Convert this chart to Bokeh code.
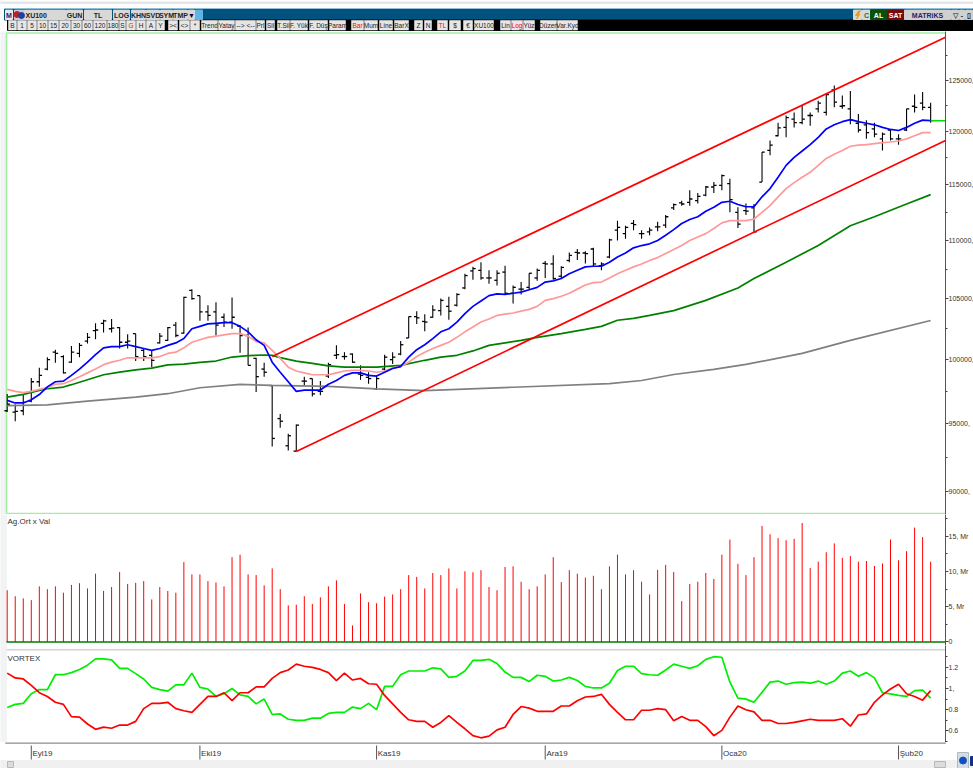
from bokeh.plotting import figure
from bokeh.layouts import column
from bokeh.models import Range1d, FixedTicker, Label, LinearAxis, LogAxis
from bokeh.core.properties import value
from bokeh.embed import file_html
from bokeh.resources import INLINE

# ---------------- data ----------------
open_ = [96000,95900,96000,96750,98250,99250,100600,100250,99800,100500,
 101500,102350,102950,102500,102600,101400,102100,100750,100350,101350,
 101550,102800,102150,105700,105250,103900,103900,103450,103050,102700,
 101950,100100,99250,97950,95400,93350,92950,98300,98500,97500,
 98700,100350,100250,100450,98850,98600,97700,99250,100000,100450,
 101750,103500,103100,103450,104000,104350,104450,105900,107350,107400,
 106750,106550,107250,105450,105800,105950,106750,108000,107950,106900,
 108250,108950,108900,109250,107800,108550,110900,110600,111500,110600,
 110750,111200,111350,112900,113350,113400,113550,114050,114800,114950,
 115100,112500,112650,112900,115250,118200,119600,120400,121200,120850,
 121550,122200,121850,124050,122450,122200,120800,120650,120250,119300,
 120150,119300,120150,122450,122750,122350]
high = [97300,96500,97250,98550,99350,100200,100800,100350,101100,101350,
 102150,102950,103250,103300,102650,102050,102100,100900,100750,102150,
 102650,103050,105150,105800,105250,104450,104700,103750,105100,102800,
 102600,100150,99750,97950,95750,94250,94950,98650,98500,98300,
 99750,101150,100600,100500,99550,99000,98750,100400,100600,101500,
 103500,103950,103700,104450,105000,105150,105450,107100,107700,108100,
 107400,107400,107800,106100,106400,107150,107550,108200,108700,107750,
 108950,109250,109050,109350,108100,110150,111750,111300,111800,110900,
 111150,111650,112250,113300,113550,114500,114250,114900,115250,115950,
 115550,112950,113300,113250,118050,119150,120850,121550,121850,122500,
 121850,123000,123650,124500,123500,123950,121700,121100,120850,119900,
 120250,119750,122200,123600,123850,122800]
low = [95900,95200,95650,96650,97850,99150,99750,98900,99750,100200,
 101300,101650,102200,102200,100900,100900,99900,99900,99400,101300,
 101500,101800,102100,104900,103150,103150,101950,102650,102500,100550,
 99550,97450,98650,93300,94700,93000,92950,97950,97100,97200,
 98550,100050,100000,99750,98400,98100,97600,99150,99650,100350,
 101750,102900,102300,103400,103600,103250,104350,105800,106600,106600,
 106250,106100,105350,104600,105350,105800,106500,106750,106600,106750,
 108100,108300,108000,107700,107400,108450,110000,110150,110900,110150,
 110450,110800,111100,112700,113100,113100,113300,113950,114250,114500,
 112500,111100,112250,110650,115250,117750,119550,119450,120400,120700,
 120550,121850,121550,122350,122200,120700,119900,119300,119450,118200,
 119150,118750,120050,121850,122050,120850]
close = [96500,95950,96650,98250,98750,100000,100500,98950,100600,101150,
 101800,102400,103150,102550,101400,101500,100250,100250,99950,101900,
 102600,101950,105100,105000,103900,103600,102800,103050,103450,101950,
 99550,98650,99000,93900,95200,94100,94900,98300,97300,97500,
 99600,100400,100250,99800,98750,98500,98500,100200,100200,101200,
 103500,103400,103050,104050,104850,103950,105350,106950,107550,106750,
 106750,107150,105450,105950,105800,107150,107400,107950,106700,107650,
 108700,108900,108850,107950,107950,110050,111150,111150,111400,110600,
 110900,111200,112100,113200,113250,113700,113950,114800,114950,115850,
 113650,111450,112600,110750,118050,118700,120350,121350,120850,121200,
 121550,122750,123600,122850,122500,121100,120150,119900,119750,119750,
 119300,119300,122200,122350,122350,121050]
ma_blue = [96800,96600,96600,96850,97250,97850,98250,98300,98750,99250,
 99800,100400,100950,101050,101050,101200,101050,100900,100750,100900,
 101150,101350,101700,102500,102700,102900,102950,103000,103000,102700,
 102250,101600,101150,99800,99000,98250,97500,97600,97600,97600,98050,
 98350,98750,98950,98950,98750,98700,99000,99300,99450,100200,
 100800,101200,101700,102250,102500,103050,103750,104350,104800,105250,
 105400,105350,105450,105550,105750,105950,106400,106500,106700,107100,
 107400,107700,107750,107750,108100,108550,108900,109350,109550,109700,
 110000,110450,110950,111500,111850,112100,112600,112950,113400,113500,
 113200,113000,113000,113900,114650,115700,116800,117550,118150,118750,
 119450,120250,120650,120950,121150,120950,120800,120650,120400,120200,
 120100,120400,120800,121100,121050]
ma_pink = [97650,97500,97400,97500,97650,97800,98050,98100,98350,98650,
 98950,99250,99600,99800,99950,100150,100150,100150,100150,100250,
 100500,100600,100950,101400,101600,101800,101900,102000,102100,102100,
 101900,101450,101350,100750,100100,99400,99100,98950,98800,98800,98800,
 98950,99100,99150,99150,99100,99000,99100,99350,99450,99800,
 100250,100600,100900,101150,101400,101800,102250,102650,103050,103300,
 103600,103700,103800,103950,104100,104350,104850,105000,105200,105450,
 105800,106150,106350,106400,106750,107100,107400,107700,107950,108250,
 108500,108850,109200,109550,110000,110300,110600,111050,111550,111750,
 111750,111750,111900,112500,113100,113900,114650,115200,115700,116150,
 116800,117450,117850,118200,118600,118700,118750,118850,118950,119000,
 119100,119300,119600,119900,119900]
ma_green_x = [0,2,4,5,7,8,10,12,14,16,18,20,22,24,26,28,30,32,33,34,36,38,40,42,46,49,52,54,56,58,60,62,64,66,69,72,74,76,78,80,83,87,91,93,97,101,105,108,112,115]
ma_green = [97050,97260,97575,97700,97835,98020,98410,98800,99010,99190,99320,99590,99650,99780,99890,100210,100320,100375,100345,100160,99890,99700,99500,99400,99400,99550,99950,100200,100350,100700,101150,101350,101550,101800,102100,102450,102700,103200,103350,103600,104000,104850,105900,106700,108100,109550,111300,112100,113250,114100]
ma_gray_x = [0,5,10,16,20,24,29,33,40,46,52,63,75,79,83,88,92,99,105,115]
ma_gray = [96400,96450,96740,97050,97315,97780,98045,97965,97885,97700,97560,97820,98110,98350,98820,99220,99620,100500,101550,103180]
trend_x = [33,116.85]
trend_upper = [100250,129400]
trend2_x = [36,116.85]
trend_lower = [92925,119150]
volume = [7.35,6.5,6.2,5.95,7.9,7.5,7.9,7.0,8.1,8.35,7.6,9.7,7.25,7.8,9.95,8.25,8.4,8.65,6.05,7.8,
 7.25,7.0,11.35,9.6,9.6,8.65,8.45,7.9,12.05,12.4,9.6,9.5,8.05,10.45,7.5,5.2,5.3,6.5,5.4,6.35,
 7.9,8.75,5.4,2.35,6.9,5.65,5.5,6.45,6.75,7.5,9.5,9.25,7.6,9.8,9.5,10.45,7.6,10.05,9.9,10.2,7.8,
 7.35,10.65,10.75,8.55,7.5,7.9,9.6,12.05,8.5,10.2,9.7,9.15,9.4,7.5,10.75,12.4,9.6,10.2,8.55,6.75,
 10.25,10.95,9.95,5.8,8.25,8.55,9.8,8.95,12.4,14.55,11.1,9.5,12.05,16.5,15.3,14.75,14.45,14.65,16.9,
 10.5,11.4,12.75,14.0,11.95,12.2,11.4,11.5,10.8,11.15,14.55,11.6,12.9,16.25,14.9,11.4]
vi_plus = [.82,.85,.86,.95,.99,.99,1.13,1.13,1.15,1.18,1.22,1.28,1.28,1.27,1.19,1.19,1.14,1.09,1.01,.99,
 .975,1.035,1.035,1.145,1.01,.995,.925,.95,1.0,.94,.925,.855,.90,.755,.76,.71,.70,.70,.72,.72,
 .765,.775,.775,.825,.81,.86,.80,1.02,1.02,1.13,1.165,1.165,1.165,1.195,1.185,1.105,1.115,1.165,1.265,1.265,1.275,
 1.235,1.155,1.105,1.105,1.065,1.125,1.115,1.07,1.08,1.105,1.075,1.02,1.005,1.005,1.05,1.17,1.21,1.21,1.14,1.13,
 1.125,1.175,1.23,1.21,1.19,1.215,1.275,1.30,1.295,1.06,.91,.90,.87,.965,1.06,1.07,1.04,1.055,1.06,1.05,
 1.07,1.04,1.07,1.145,1.165,1.115,1.15,1.10,.96,.95,.935,.925,.98,.985,.91]
vi_minus = [1.145,1.10,1.09,1.03,.96,.925,.87,.85,.735,.73,.665,.615,.635,.625,.655,.655,.69,.81,.86,.86,
 .87,.81,.79,.775,.85,.925,.925,.96,.885,.96,.96,1.015,1.015,1.095,1.15,1.175,1.23,1.21,1.20,1.18,
 1.15,1.075,1.145,1.08,1.095,1.045,1.04,.935,.855,.775,.705,.69,.69,.635,.68,.745,.68,.62,.555,.535,.55,
 .61,.635,.755,.83,.815,.785,.785,.785,.835,.835,.885,.92,.925,.945,.85,.775,.705,.705,.795,.795,
 .81,.80,.695,.735,.70,.70,.64,.555,.605,.73,.835,.80,.78,.70,.70,.67,.67,.68,.695,.71,
 .70,.70,.70,.715,.645,.75,.76,.87,.94,.995,1.04,.95,.925,.89,.98]
price_ticks = [90000,95000,100000,105000,110000,115000,120000,125000]
price_minor = [87500,92500,97500,102500,107500,112500,117500,122500,127500]
vol_ticks = [0,5,10,15]
vol_labels = ["0","5, Mr","10, Mr","15, Mr"]
vol_minor = [2.5,7.5,12.5,17.5]
vx_ticks = [0.6,0.8,1.0,1.2]
vx_labels = ["0.6","0.8","1,","1.2"]
vx_minor = [0.5,0.7,0.9,1.1,1.3]
date_idx = [3,24,46,67,89,111]
date_labels = ["Eyl19","Eki19","Kas19","Ara19","Oca20","Şub20"]

row1_left = [("M",5,12,"#e8e8e8","#1a237e"),("",14,24,"#c8c8d8","#000"),("XU100",24,65,"#d8d8d8","#222"),("GUN",66,82,"#d8d8d8","#222"),
 ("TL",84,111,"#d8d8d8","#222"),("LOG",113,129,"#d8d8d8","#222"),("KHN",131,145,"#d8d8d8","#222"),("SVD",146,159,"#d8d8d8","#222"),
 ("SYM",160,172,"#d8d8d8","#222"),("TMP",173,187,"#d8d8d8","#222"),("▼",188,194,"#d8d8d8","#000050"),("",195,202,"#5fb4e6","#fff")]
row1_right = [("",853,861,"#d8d8d8","#000"),("C",862,870,"#d8d8d8","#0a7a3a"),("AL",870,886,"#0a4f0a","#fff"),("SAT",887,903,"#7a0a0a","#fff"),
 ("MATRiKS",904,950,"#d0d0d0","#22226e"),("▽",951,958,"#d0d0d0","#555"),("-",959,964,"#d0d0d0","#222"),("▯",965,972,"#d0d0d0","#222")]
row2 = [("B",8,16),("1",17,26),("5",27,36),("10",37,47),("15",48,58),("20",59,70),("30",71,81),("60",82,92),("120",93,106),("180",107,118),
 ("S",119,125),("G",126,135),("H",136,145),("A",146,155),("Y",156,164),("><",168,177),("<>",179,189),("*",190,199),
 ("Trend",201,217),("Yatay",218,234),("-->",235,245),("<--",245,255),("Prl",256,264),("Sil",266,274),("T.Sil",277,289),("F. Yük",290,307),("F. Düş",309,327),("Param",329,345),
 ("Bar",351,363),("Mum",364,377),("Line",379,392),("BarX",394,408),("Z",414,422),("N",424,431),("TL",437,447),("$",449,460),("€",463,472),("XU100",474,493),
 ("Lin",500,510),("Log",511,522),("Yüz",523,534),("Düzen",540,556),("Var.Kyd",557,577)]
row2_red = ["G","Bar","TL","Log"]

# ---------------- scale constants ----------------
FONT = "Liberation Sans"
X0, STEP = 6.7, 8.03
XS, XE = (0 - X0) / STEP, (945 - X0) / STEP
LEFT_EDGE = (6 - X0) / STEP
n = len(close)
idx = list(range(n))
STRIP = "#f1f3f4"
BORDER = "#a0eea0"


def base(frame_h, yr, **kw):
    p = figure(frame_width=kw.pop("fw", 945), frame_height=frame_h, x_range=Range1d(XS, XE), y_range=yr,
               output_backend="svg", toolbar_location=None, min_border=0, min_border_left=0,
               min_border_right=0, min_border_top=0, min_border_bottom=0, **kw)
    p.outline_line_color = None
    p.grid.visible = False
    p.xaxis.visible = False
    p.yaxis.visible = False
    p.background_fill_color = "#ffffff"
    p.border_fill_color = "#ffffff"
    return p


def right_axis(p, ax, ticks, minor, labels):
    ax.ticker = FixedTicker(ticks=ticks, minor_ticks=minor)
    ax.major_label_overrides = labels
    ax.axis_line_color = "#555555"
    ax.major_tick_line_color = "#444444"
    ax.minor_tick_line_color = "#444444"
    ax.major_tick_in = 0
    ax.minor_tick_in = 0
    ax.major_tick_out = 3
    ax.minor_tick_out = 2
    ax.major_label_standoff = 0
    ax.major_label_text_font = FONT
    ax.major_label_text_font_size = "7px"
    ax.major_label_text_color = "#333333"
    p.add_layout(ax, "right")


# ---------------- chrome ----------------
chrome = figure(frame_width=973, frame_height=31, x_range=Range1d(0, 973), y_range=Range1d(31, 0),
                output_backend="svg", toolbar_location=None, min_border=0)
chrome.outline_line_color = None
chrome.grid.visible = False
chrome.axis.visible = False
chrome.border_fill_color = "#ffffff"
chrome.quad(left=[0], right=[973], top=[1.6], bottom=[2.8], color="#e2e4e6")
chrome.quad(left=[4], right=[973], top=[8.2], bottom=[9.2], color="#7db3cf")
chrome.quad(left=[4], right=[973], top=[9], bottom=[19.5], color="#00527f")
chrome.quad(left=[7], right=[973], top=[19.5], bottom=[30], color="#000000")
for rows in (row1_left, row1_right):
    chrome.quad(left=[r[1] for r in rows], right=[r[2] for r in rows], top=[9.6] * len(rows), bottom=[19] * len(rows),
                color=[r[3] for r in rows])
    chrome.text(x=[r[1] + 1 if r[0] == "XU100" else (r[1] + r[2]) / 2 for r in rows], y=[14.5] * len(rows),
                text=[r[0] for r in rows], text_color=[r[4] for r in rows],
                text_align=["left" if r[0] == "XU100" else "center" for r in rows], text_baseline="middle",
                text_font=value(FONT), text_font_size="7px", text_font_style="bold")
chrome.quad(left=[r[1] for r in row2], right=[r[2] for r in row2], top=[20] * len(row2), bottom=[29.5] * len(row2),
            fill_color="#e6e6e6", line_color="#f4f4f4", line_width=0.5)
chrome.text(x=[(r[1] + r[2]) / 2 for r in row2], y=[25] * len(row2), text=[r[0] for r in row2],
            text_color=["#ff0000" if r[0] in row2_red else "#222222" for r in row2],
            text_align="center", text_baseline="middle", text_font=value(FONT), text_font_size="6.5px")
chrome.patch(x=[858, 855, 857.5, 856, 859.5, 857.5, 860], y=[10.5, 15, 15, 18.5, 13.5, 13.5, 10.5], color="#e8a010")
chrome.scatter(x=[16.5, 21], y=[14, 15], marker="circle", size=6, color=["#c02020", "#2040a0"])

# ---------------- price ----------------
price = base(483, Range1d(88360, 129990), y_axis_type="log")
price.quad(left=[XS], right=[LEFT_EDGE], top=[129990], bottom=[88360], color=STRIP)
price.segment(x0=[LEFT_EDGE, LEFT_EDGE], x1=[LEFT_EDGE, XE], y0=[88425, 129840], y1=[129840, 129840],
              line_color=BORDER, line_width=1.5)
price.segment(x0=[LEFT_EDGE], x1=[XE], y0=[88425], y1=[88425], line_color=BORDER, line_width=1.5)
price.segment(x0=idx, x1=idx, y0=low, y1=high, line_color="#000000", line_width=1.1)
price.segment(x0=[i - 0.34 for i in idx], x1=idx, y0=open_, y1=open_, line_color="#000000", line_width=1.3)
price.segment(x0=idx, x1=[i + 0.34 for i in idx], y0=close, y1=close, line_color="#000000", line_width=1.3)
price.line(ma_gray_x, ma_gray, line_color="#808080", line_width=1.7)
price.line(ma_green_x, ma_green, line_color="#008000", line_width=1.7)
price.line(idx, ma_pink, line_color="#ff9999", line_width=1.7)
price.line(idx, ma_blue, line_color="#0000ff", line_width=1.7)
price.line(trend_x, trend_upper, line_color="#ff0000", line_width=1.7)
price.line(trend2_x, trend_lower, line_color="#ff0000", line_width=1.7)
price.segment(x0=[idx[-1]], x1=[XE], y0=[close[-1]], y1=[close[-1]], line_color="#00e000", line_width=1.5)
right_axis(price, LogAxis(), price_ticks, price_minor, {t: f"{t}," for t in price_ticks})

# ---------------- volume ----------------
vol = base(131, Range1d(-0.5, 18.11))
vol.quad(left=[XS], right=[LEFT_EDGE], top=[18.11], bottom=[-0.5], color=STRIP)
vol.segment(x0=idx, x1=idx, y0=[0] * n, y1=volume, line_color="#ff0000", line_width=1)
vol.line([LEFT_EDGE, XE], [0, 0], line_color="#007a00", line_width=1.7)
vol.add_layout(Label(x=7, y=124, x_units="screen", y_units="screen", text="Ag.Ort x Val", text_font=FONT,
                     text_font_size="8px", text_color="#333333", text_baseline="middle"))
right_axis(vol, LinearAxis(), vol_ticks, vol_minor, dict(zip(vol_ticks, vol_labels)))

# ---------------- vortex ----------------
vx = base(97, Range1d(0.4906, 1.4057))
vx.quad(left=[XS], right=[LEFT_EDGE], top=[1.4057], bottom=[0.4906], color=STRIP)
vx.segment(x0=[LEFT_EDGE], x1=[XE], y0=[1.365], y1=[1.365], line_color="#d4d4d4", line_width=1.5)
vx.line(idx, vi_plus, line_color="#00ee00", line_width=1.7)
vx.line(idx, vi_minus, line_color="#ff0000", line_width=1.7)
vx.add_layout(Label(x=7, y=84, x_units="screen", y_units="screen", text="VORTEX", text_font=FONT,
                    text_font_size="8px", text_color="#333333", text_baseline="middle"))
right_axis(vx, LinearAxis(), vx_ticks, vx_minor, dict(zip(vx_ticks, vx_labels)))

# ---------------- date strip / footer ----------------
foot = figure(frame_width=973, frame_height=26, x_range=Range1d(XS, (973 - X0) / STEP), y_range=Range1d(26, 0),
              output_backend="svg", toolbar_location=None, min_border=0)
foot.outline_line_color = None
foot.grid.visible = False
foot.axis.visible = False
foot.border_fill_color = "#ffffff"


def fx(px):
    return (px - X0) / STEP


foot.quad(left=[fx(0)], right=[fx(973)], top=[18], bottom=[26], color="#f0f0f0")
foot.quad(left=[fx(5)], right=[fx(945)], top=[0], bottom=[1], color="#a8a8a8")
foot.segment(x0=date_idx, x1=date_idx, y0=[3] * 6, y1=[17] * 6, line_color="#555555", line_width=1)
foot.text(x=[d + 0.15 for d in date_idx], y=[11] * 6, text=date_labels, text_font=value(FONT), text_font_size="8px",
          text_color="#333333", text_align="left", text_baseline="middle")
foot.quad(left=[fx(7), fx(934)], right=[fx(13), fx(945)], top=[19, 19], bottom=[25, 25], fill_color="#dcdcdc",
          line_color="#b8b8b8")
foot.quad(left=[fx(957)], right=[fx(968)], top=[10], bottom=[26], fill_color="#d4dce4", line_color="#b0b8c0")
foot.scatter(x=[fx(962.5)], y=[18], marker="circle", size=7, color="#1050c0")
foot.quad(left=[fx(970)], right=[fx(973)], top=[14], bottom=[23], color="#10308a")

page = column(chrome, price, vol, vx, foot, spacing=0, margin=(0, 0, 0, 0))
open("out.html", "w").write(file_html(page, INLINE))
